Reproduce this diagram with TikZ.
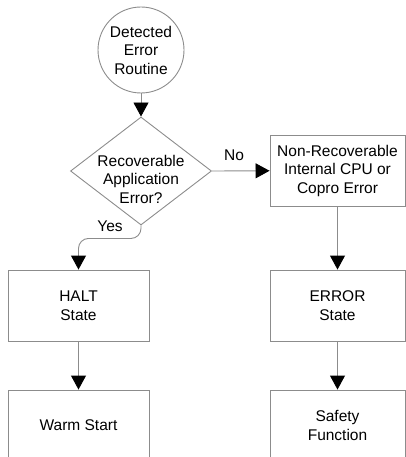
\documentclass[tikz,border=0pt]{standalone}
\usepackage{fontspec}
\setmainfont{Liberation Sans}
\usetikzlibrary{arrows.meta,shapes.geometric}

\begin{document}
\begin{tikzpicture}[x=1pt,y=-1pt,>={Triangle[length=14pt,width=15pt,color=black]},
  every node/.style={font=\fontsize{15.5}{18.5}\selectfont},
  line/.style={draw=black!45,line width=0.9pt},
  flowbox/.style={line,minimum width=135pt,minimum height=71pt,inner sep=0pt,align=center},
  startnode/.style={line,circle,minimum size=86pt,inner sep=0pt,align=center},
  decision/.style={line,diamond,minimum width=141pt,minimum height=108pt,inner sep=0pt}]
  \useasboundingbox (0,0) rectangle (406,457);
  \node[startnode] (start) at (141,50) {Detected\\Error\\Routine};
  \node[decision] (dec) at (141,171) {};
  \node[align=center] (decText) at (141,179) {Recoverable\\Application\\Error?};
  \node[flowbox] (nonrec) at (337.5,170.5) {Non-Recoverable\\Internal CPU or\\Copro Error};
  \node[flowbox,minimum width=141pt] (halt) at (78.5,305.5) {HALT\\State};
  \node[flowbox] (errState) at (337.5,305.5) {ERROR\\State};
  \node[flowbox,minimum width=141pt] (warm) at (78.5,425.5) {Warm Start};
  \node[flowbox] (safety) at (337.5,425.5) {Safety\\Function};
  \node (noLbl) at (234,155) {No};
  \node (yesLbl) at (110,226) {Yes};
  \draw[line,->] (start) -- (dec);
  \draw[line,->] (dec.east) -- (nonrec);
  \draw[line,->,rounded corners=10pt] (dec.south) -- ++(0,13) -| (halt.north);
  \draw[line,->] (nonrec) -- (errState);
  \draw[line,->] (halt) -- (warm);
  \draw[line,->] (errState) -- (safety);
\end{tikzpicture}
\end{document}
